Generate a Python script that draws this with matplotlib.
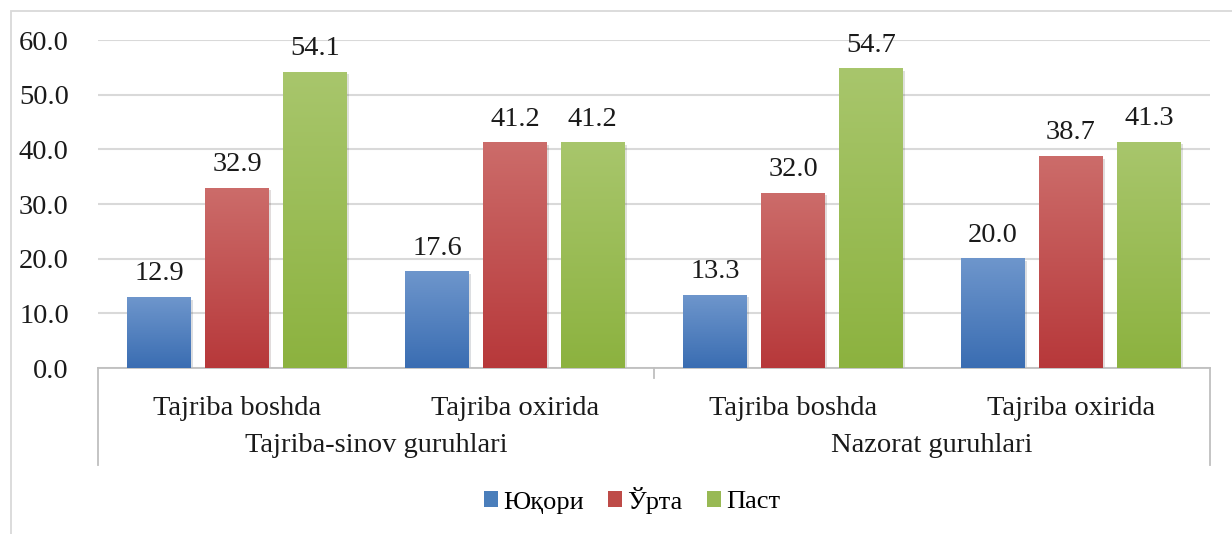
import numpy as np
import matplotlib
matplotlib.use("Agg")
import matplotlib.pyplot as plt
from matplotlib.colors import LinearSegmentedColormap
from matplotlib.patches import Patch, Rectangle
import matplotlib.patheffects as pe

plt.rcParams['font.family'] = ['Liberation Serif', 'DejaVu Serif']

groups = ["Tajriba-sinov guruhlari", "Nazorat guruhlari"]
stages = ["Tajriba boshda", "Tajriba oxirida", "Tajriba boshda", "Tajriba oxirida"]
series = ["Юқори", "Ўрта", "Паст"]
yuqori = [12.9, 17.6, 13.3, 20.0]
urta = [32.9, 41.2, 32.0, 38.7]
past = [54.1, 41.2, 54.7, 41.3]
yticks = [0, 10, 20, 30, 40, 50, 60]

values = [yuqori, urta, past]
# (top colour, bottom colour) for the excel-like gradient
grads = [("#6e96cc", "#3a6db2"), ("#cc6c6a", "#b7383a"), ("#a8c66c", "#8cb23f")]
solid = ["#4a7ebb", "#be4b48", "#98b954"]

fig = plt.figure(figsize=(12.32, 5.34), dpi=100)
ax = fig.add_axes([98 / 1232, 166 / 534, 1112 / 1232, 328 / 534])

# outer chart border
fig.patches.append(Rectangle((11 / 1232, -0.1), 1.2, 1 - 11 / 534 + 0.1,
                             transform=fig.transFigure, fill=False,
                             edgecolor="#d9d9d9", lw=1.3, clip_on=False))

x = np.arange(len(stages))
w = 0.23
off = 0.28
for i, vals in enumerate(values):
    bars = ax.bar(x + (i - 1) * off, vals, w, color=solid[i], zorder=2,
                  path_effects=[pe.SimplePatchShadow(offset=(1.5, -1.5), alpha=0.15),
                                pe.Normal()])
    cmap = LinearSegmentedColormap.from_list("g%d" % i, [grads[i][1], grads[i][0]])
    for b in bars:
        x0, y0 = b.get_x(), b.get_y()
        ax.imshow(np.linspace(0, 1, 256).reshape(-1, 1), cmap=cmap, origin="lower",
                  extent=[x0, x0 + b.get_width(), y0, y0 + b.get_height()],
                  aspect="auto", zorder=3)
    ax.bar_label(bars, fmt="%.1f", padding=8, fontsize=20.5, color="#1a1a1a")

ax.set_xlim(-0.5, 3.5)
ax.set_ylim(0, 60)
ax.set_yticks(yticks)
ax.set_yticklabels(["%.1f" % v for v in yticks], fontsize=20.5, color="#1a1a1a")
ax.tick_params(axis="y", length=0, pad=21)
ax.set_xticks([])
ax.grid(axis="y", color="#d9d9d9", lw=1.5, zorder=0)
ax.set_axisbelow(True)
for s in ["top", "right", "left"]:
    ax.spines[s].set_visible(False)
ax.spines["bottom"].set_color("#bfbfbf")
ax.spines["bottom"].set_linewidth(1.3)

# multi-level category axis
tr = ax.get_xaxis_transform()
for xi, lab in zip(x, stages):
    ax.text(xi, -0.122, lab, transform=tr, ha="center", va="center",
            fontsize=20.5, color="#1a1a1a")
for gi, g in enumerate(groups):
    ax.text(gi * 2 + 0.5, -0.235, g, transform=tr, ha="center", va="center",
            fontsize=20.5, color="#1a1a1a")
for xs, depth in [(-0.5, -0.296), (1.5, -0.03), (3.5, -0.296)]:
    ax.plot([xs, xs], [0, depth], transform=tr, color="#bfbfbf", lw=1.3, clip_on=False)

handles = [Patch(facecolor=solid[i], edgecolor="none") for i in range(3)]
fig.legend(handles, series, loc="center", bbox_to_anchor=(632 / 1232, 1 - 500 / 534),
           ncol=3, frameon=False, fontsize=19, handlelength=0.55, handleheight=0.55,
           handletextpad=0.2, columnspacing=0.9)

fig.savefig("out.png", dpi=100)
